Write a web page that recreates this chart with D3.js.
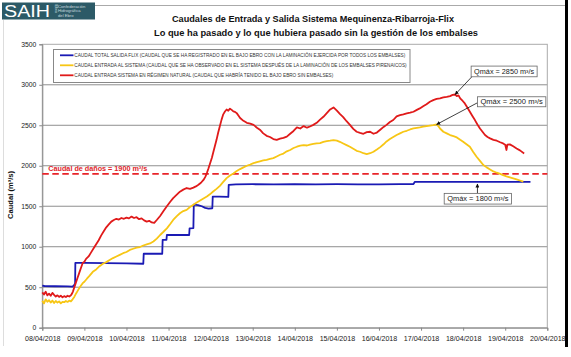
<!DOCTYPE html>
<html><head><meta charset="utf-8">
<script src="https://cdn.jsdelivr.net/npm/d3@7"></script>
<style>html,body{margin:0;padding:0;background:#fff;}svg{display:block;font-family:"Liberation Sans",Arial,sans-serif;}</style>
</head><body>
<script>
// ---- DATA ----
const titleLines = ["Caudales de Entrada y Salida Sistema Mequinenza-Ribarroja-Flix",
  "Lo que ha pasado y lo que hubiera pasado sin la gestión de los embalses"];
const yTicks = [0,500,1000,1500,2000,2500,3000,3500];
const legendLabels = [
  "CAUDAL TOTAL SALIDA FLIX (CAUDAL QUE SE HA REGISTRADO EN EL BAJO EBRO CON LA LAMINACIÓN EJERCIDA POR TODOS LOS EMBALSES)",
  "CAUDAL ENTRADA AL SISTEMA (CAUDAL QUE SE HA OBSERVADO EN EL SISTEMA DESPUÉS DE LA LAMINACIÓN DE LOS EMBALSES PIRENAICOS)",
  "CAUDAL ENTRADA SISTEMA EN RÉGIMEN NATURAL (CAUDAL QUE HABRÍA TENIDO EL BAJO EBRO SIN EMBALSES)"];
const damageLevel = 1900;
const damageLabel = "Caudal de daños = 1900 m³/s";
// days since 08/04/2018 00:00
const blueDays = [0,0.05,0.3,0.6,0.72,0.76,0.78,0.785,1.0,1.5,2.0,2.4,2.41,2.85,2.86,2.95,2.96,3.49,3.5,3.59,3.6,3.7,3.79,3.87,3.95,4.04,4.05,4.2,4.42,4.43,4.6,5.0,5.5,6.0,6.5,7.0,7.5,8.0,8.5,8.82,8.85,9.5,10.0,10.5,11.0,11.6];
const blueVals = [520,515,512,510,508,530,545,800,800,797,795,790,913,913,1085,1085,1145,1145,1227,1230,1520,1515,1500,1480,1470,1475,1620,1618,1615,1765,1770,1772,1770,1773,1770,1772,1770,1771,1773,1775,1800,1800,1802,1800,1800,1800];
const yellowDays = [0,0.04,0.08,0.12,0.16,0.2,0.24,0.28,0.32,0.36,0.4,0.44,0.48,0.52,0.56,0.6,0.64,0.68,0.72,0.76,0.8,0.84,0.88,0.92,0.96,1.0,1.06,1.12,1.2,1.28,1.36,1.44,1.52,1.6,1.68,1.76,1.84,1.92,2.0,2.08,2.16,2.24,2.32,2.4,2.48,2.56,2.64,2.72,2.8,2.88,2.96,3.04,3.11,3.19,3.27,3.35,3.43,3.51,3.59,3.67,3.75,3.83,3.91,3.99,4.06,4.14,4.22,4.3,4.38,4.46,4.54,4.62,4.7,4.78,4.86,4.94,5.02,5.1,5.17,5.25,5.33,5.41,5.49,5.57,5.65,5.73,5.81,5.89,5.97,6.05,6.13,6.21,6.29,6.36,6.44,6.52,6.6,6.68,6.76,6.84,6.92,7.0,7.07,7.15,7.23,7.31,7.39,7.47,7.55,7.63,7.71,7.79,7.87,7.95,8.03,8.11,8.18,8.26,8.34,8.42,8.5,8.58,8.66,8.74,8.82,8.9,8.97,9.05,9.13,9.21,9.29,9.37,9.41,9.45,9.53,9.61,9.69,9.77,9.85,9.93,10.0,10.08,10.16,10.24,10.32,10.4,10.48,10.56,10.64,10.72,10.8,10.88,10.95,11.03,11.11,11.19,11.27,11.35,11.43];
const yellowVals = [332,300,350,320,340,310,335,305,330,310,325,300,320,315,330,318,335,325,350,380,420,455,490,520,550,568,605,640,690,720,760,790,810,835,860,880,900,920,935,960,975,990,996,1015,1030,1041,1065,1100,1145,1185,1227,1280,1331,1375,1413,1440,1455,1490,1517,1545,1570,1595,1620,1650,1682,1715,1752,1800,1847,1880,1905,1935,1959,1980,2000,2015,2033,2045,2054,2065,2074,2085,2095,2115,2136,2150,2178,2195,2219,2235,2248,2255,2250,2262,2270,2276,2280,2295,2305,2310,2317,2310,2296,2275,2255,2235,2210,2185,2173,2155,2144,2155,2173,2200,2230,2265,2300,2330,2355,2380,2400,2420,2432,2448,2461,2468,2474,2482,2490,2496,2502,2510,2490,2460,2420,2400,2379,2365,2350,2320,2296,2265,2235,2170,2111,2060,2009,1980,1955,1930,1914,1900,1885,1870,1857,1845,1832,1818,1803];
const redDays = [0,0.04,0.08,0.12,0.16,0.2,0.24,0.28,0.32,0.36,0.4,0.44,0.48,0.52,0.56,0.6,0.64,0.68,0.7,0.73,0.76,0.8,0.84,0.88,0.92,0.96,1.0,1.04,1.1,1.16,1.22,1.28,1.34,1.4,1.46,1.52,1.58,1.64,1.7,1.76,1.82,1.88,1.94,2.0,2.06,2.12,2.18,2.24,2.3,2.36,2.42,2.48,2.54,2.6,2.66,2.72,2.8,2.88,2.96,3.04,3.11,3.19,3.27,3.35,3.43,3.51,3.59,3.65,3.71,3.77,3.83,3.87,3.91,3.95,3.99,4.03,4.06,4.1,4.14,4.18,4.22,4.26,4.3,4.34,4.38,4.42,4.46,4.5,4.54,4.58,4.62,4.66,4.7,4.78,4.86,4.94,5.02,5.1,5.17,5.25,5.33,5.41,5.49,5.57,5.65,5.73,5.81,5.89,5.97,6.05,6.13,6.21,6.29,6.36,6.44,6.52,6.6,6.68,6.76,6.84,6.92,7.0,7.07,7.15,7.23,7.31,7.39,7.47,7.55,7.63,7.71,7.79,7.87,7.95,8.03,8.11,8.18,8.26,8.34,8.42,8.5,8.58,8.66,8.74,8.82,8.9,8.97,9.05,9.13,9.21,9.29,9.37,9.45,9.53,9.61,9.69,9.75,9.81,9.85,9.89,9.93,9.99,10.04,10.1,10.16,10.22,10.28,10.34,10.4,10.46,10.52,10.58,10.64,10.72,10.8,10.88,10.95,11.0,11.03,11.05,11.11,11.19,11.27,11.35,11.45];
const redVals = [436,410,445,400,420,395,430,405,385,400,380,395,375,390,378,395,385,400,415,450,498,560,620,680,740,800,815,850,880,930,980,1030,1080,1140,1190,1240,1275,1310,1330,1345,1335,1355,1345,1360,1350,1372,1355,1365,1340,1350,1325,1310,1320,1300,1295,1330,1380,1440,1500,1555,1600,1640,1680,1705,1725,1715,1730,1745,1765,1790,1825,1860,1910,1970,2035,2100,2160,2240,2320,2410,2490,2570,2635,2670,2695,2680,2705,2690,2672,2665,2650,2620,2590,2555,2530,2520,2505,2470,2445,2400,2370,2355,2330,2320,2335,2345,2360,2395,2430,2475,2460,2490,2470,2485,2505,2530,2570,2605,2650,2695,2720,2680,2640,2600,2550,2505,2455,2420,2405,2395,2415,2420,2395,2410,2445,2480,2505,2540,2565,2610,2626,2635,2646,2655,2667,2690,2708,2735,2760,2790,2810,2825,2832,2845,2852,2860,2875,2880,2860,2870,2832,2800,2770,2720,2667,2615,2564,2510,2461,2420,2379,2355,2338,2320,2309,2290,2276,2260,2195,2260,2264,2240,2214,2190,2152];
// annotations: box anchor (day, value) and tip (day, value)
const noteLabels = ["Qmáx = 2850 m³/s","Qmáx = 2500 m³/s","Qmáx = 1800 m³/s"];
const noteBoxDay = [10.19, 10.34, 9.55];
const noteBoxVal = [3231, 2852, 1659];
const noteTipDay = [9.81, 9.37, 10.34];
const noteTipVal = [2880, 2510, 1800];

// ---- CHART ----
const W = 571, H = 357;
const start = Date.UTC(2018,3,8);
const toDate = d => new Date(start + d*864e5);
const x = d3.scaleUtc().domain([toDate(0), toDate(12)]).range([42.3, 547.3]);
const y = d3.scaleLinear().domain([0,3500]).range([327.7, 44.3]);
const colors = {blue:"#1a1ab4", yellow:"#f7c615", red:"#e01a1a"};

const svg = d3.select("body").append("svg").attr("width",W).attr("height",H);
// frame
svg.append("line").attr("x1",95).attr("x2",566).attr("y1",5.5).attr("y2",5.5).attr("stroke","#aaa").attr("stroke-width",1);
svg.append("line").attr("x1",3.5).attr("x2",3.5).attr("y1",20).attr("y2",346).attr("stroke","#ddd").attr("stroke-width",1);
svg.append("rect").attr("x",565).attr("y",0).attr("width",3).attr("height",347).attr("fill","#000");

// logo
const logo = svg.append("g");
logo.append("rect").attr("x",2).attr("y",2.5).attr("width",93).attr("height",17).attr("fill","#2c5a67");
logo.append("text").attr("x",4).attr("y",17).attr("fill","#fff").attr("font-size",16).attr("font-family","Liberation Sans, Arial").text("SAIH")
  .attr("textLength",46).attr("lengthAdjust","spacingAndGlyphs");
logo.append("text").attr("transform","translate(55,4.5) rotate(90)").attr("fill","#dfe9ec").attr("font-size",4).text("Ebro");
["Confederación","Hidrográfica","del Ebro"].forEach((t,i)=>{
  logo.append("text").attr("x",58).attr("y",7.5+i*4.7).attr("fill","#c9d9de").attr("font-size",4.2).text(t);
});

// titles
const titleY = [21.5, 36];
const titleW = [282, 324];
const titleC = [313, 316];
titleLines.forEach((t,i)=>{
  svg.append("text").attr("x",titleC[i]).attr("y",titleY[i]).attr("text-anchor","middle")
    .attr("font-weight","bold").attr("font-size",9.6).attr("fill","#111")
    .attr("textLength",titleW[i]).attr("lengthAdjust","spacingAndGlyphs").text(t);
});

// plot border + gridlines
const [x0,x1] = x.range(), [yb,yt] = y.range();
svg.append("g").selectAll("line").data(yTicks.filter(v=>v>0&&v<3500)).join("line")
  .attr("x1",x0).attr("x2",x1).attr("y1",d=>y(d)).attr("y2",d=>y(d))
  .attr("stroke","#8f8f8f").attr("stroke-width",1);
svg.append("rect").attr("x",x0).attr("y",yt).attr("width",x1-x0).attr("height",yb-yt)
  .attr("fill","none").attr("stroke","#aaa").attr("stroke-width",1);

// axes
const yAxis = svg.append("g").attr("transform",`translate(${x0},0)`)
  .call(d3.axisLeft(y).tickValues(yTicks).tickFormat(d3.format("d")).tickSize(3).tickPadding(3));
const xAxis = svg.append("g").attr("transform",`translate(0,${yb})`)
  .call(d3.axisBottom(x).ticks(d3.utcDay.every(1)).tickFormat(d3.utcFormat("%d/%m/%Y")).tickSize(3).tickPadding(5.5));
[yAxis,xAxis].forEach(a=>{
  a.select(".domain").attr("stroke","#888");
  a.selectAll(".tick line").attr("stroke","#888");
  a.selectAll("text").attr("fill","#222").attr("font-family","Liberation Sans, Arial");
});
yAxis.selectAll("text").attr("font-size",6.8);
xAxis.selectAll("text").attr("font-size",7.1);

svg.append("text").attr("transform","translate(13,195) rotate(-90)").attr("text-anchor","middle")
  .attr("font-weight","bold").attr("font-size",7.6).attr("fill","#111").text("Caudal (m³/s)");

// damage threshold
svg.append("line").attr("x1",x0).attr("x2",x1).attr("y1",y(damageLevel)).attr("y2",y(damageLevel))
  .attr("stroke","#e8242a").attr("stroke-width",1.8).attr("stroke-dasharray","6.5,3.5");
svg.append("text").attr("x",x0+6).attr("y",y(damageLevel)-2.6).attr("fill","#e0242a")
  .attr("font-weight","bold").attr("font-size",8).attr("textLength",99).attr("lengthAdjust","spacingAndGlyphs").text(damageLabel);

// series
const line = d3.line().x(d=>x(toDate(d[0]))).y(d=>y(d[1]));
const series = [
  {days:blueDays, vals:blueVals, color:colors.blue},
  {days:yellowDays, vals:yellowVals, color:colors.yellow},
  {days:redDays, vals:redVals, color:colors.red}];
series.forEach(s=>{
  svg.append("path").datum(d3.zip(s.days,s.vals)).attr("d",line)
    .attr("fill","none").attr("stroke",s.color).attr("stroke-width",1.8).attr("stroke-linejoin","round");
});

// legend
const lg = svg.append("g");
lg.append("rect").attr("x",53.5).attr("y",49.5).attr("width",356.5).attr("height",33)
  .attr("fill","#fff").attr("stroke","#888").attr("stroke-width",1);
const legendW = [331, 332.4, 259];
const lcol = [colors.blue, colors.yellow, colors.red];
legendLabels.forEach((t,i)=>{
  const yy = 55.3 + i*10;
  lg.append("line").attr("x1",60).attr("x2",73.5).attr("y1",yy).attr("y2",yy).attr("stroke",lcol[i]).attr("stroke-width",1.8);
  lg.append("text").attr("x",74.3).attr("y",yy+1.8).attr("font-size",5.2).attr("fill","#333")
    .attr("textLength",legendW[i]).attr("lengthAdjust","spacingAndGlyphs").text(t);
});

// annotations
svg.append("defs").append("marker").attr("id","arr").attr("viewBox","0 0 10 10").attr("refX",9).attr("refY",5)
  .attr("markerWidth",5).attr("markerHeight",5).attr("orient","auto")
  .append("path").attr("d","M0,0L10,5L0,10z").attr("fill","#111");
const boxW = [66, 68.4, 67.4], boxH = [10.7, 10, 10.7];
const startMode = ["bl","lm","tc"];
noteLabels.forEach((t,i)=>{
  const bx = x(toDate(noteBoxDay[i])), by = y(noteBoxVal[i]);
  const tx = x(toDate(noteTipDay[i])), ty = y(noteTipVal[i]);
  let sx, sy;
  if (startMode[i]==="bl") { sx = bx+0.7; sy = by+boxH[i]; }
  else if (startMode[i]==="lm") { sx = bx; sy = by+boxH[i]*0.6; }
  else { sx = tx; sy = by; }
  svg.append("line").attr("x1",sx).attr("y1",sy).attr("x2",tx).attr("y2",ty+ (startMode[i]==="tc"?2:0))
    .attr("stroke","#111").attr("stroke-width",0.8).attr("marker-end","url(#arr)");
  svg.append("rect").attr("x",bx).attr("y",by).attr("width",boxW[i]).attr("height",boxH[i])
    .attr("fill","#fff").attr("stroke","#666").attr("stroke-width",0.8);
  svg.append("text").attr("x",bx+boxW[i]/2).attr("y",by+boxH[i]/2+2.5).attr("text-anchor","middle")
    .attr("font-size",7).attr("fill","#222").attr("textLength",boxW[i]-6).attr("lengthAdjust","spacingAndGlyphs").text(t);
});
</script>
</body></html>
